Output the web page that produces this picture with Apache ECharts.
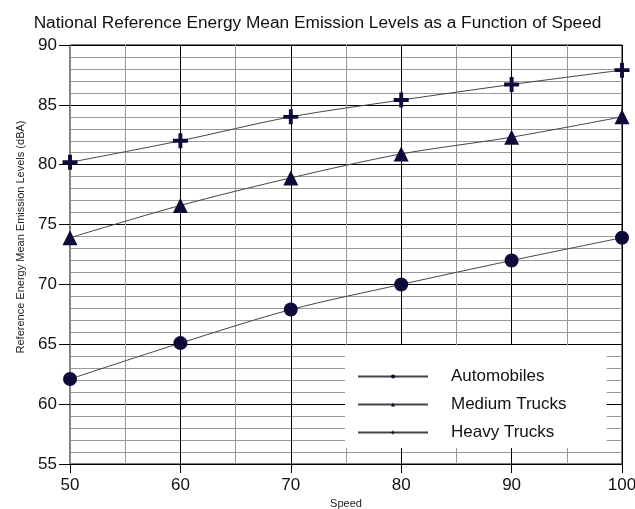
<!DOCTYPE html>
<html>
<head>
<meta charset="utf-8">
<script src="https://cdn.jsdelivr.net/npm/echarts@6/dist/echarts.min.js"></script>
<style>html,body{margin:0;padding:0;background:#fff}#c{width:635px;height:509px}</style>
</head>
<body>
<div id="c"></div>
<script>
var speeds = [50, 60, 70, 80, 90, 100];
var automobiles = [62.1, 65.1, 67.9, 70.0, 72.0, 73.9];
var mediumTrucks = [73.9, 76.6, 78.9, 80.9, 82.3, 84.0];
var heavyTrucks = [80.2, 82.0, 84.0, 85.4, 86.7, 87.9];
var seriesNames = ['Automobiles', 'Medium Trucks', 'Heavy Trucks'];
var yAxisTitle = 'Reference Energy Mean Emission Levels (dBA)';

function pairs(ys) { return speeds.map(function (s, i) { return [s, ys[i]]; }); }

var FONT = 'Liberation Sans, Arial, sans-serif';
var MARK = '#0d0b3a';
var LINE = '#444';
var plus = 'path://M3.7,0H6.3V3.7H10V6.3H6.3V10H3.7V6.3H0V3.7H3.7Z';

function mk(name, ys, sym, size) {
  return {
    name: name, type: 'line', data: pairs(ys), smooth: 0.3,
    symbol: sym, symbolSize: size, showAllSymbol: true,
    lineStyle: { color: LINE, width: 1 },
    itemStyle: { color: MARK, borderColor: MARK, borderWidth: 0 },
    emphasis: { disabled: true }
  };
}

var chart = echarts.init(document.getElementById('c'), null, { renderer: 'canvas' });
chart.setOption({
  animation: false,
  backgroundColor: '#fff',
  title: {
    text: 'National Reference Energy Mean Emission Levels as a Function of Speed',
    left: 'center', top: 10,
    textStyle: { fontFamily: FONT, fontSize: 17.3, fontWeight: 'normal', color: '#111' }
  },
  graphic: [{
    type: 'text', x: 21, y: 237, rotation: Math.PI / 2,
    style: { text: yAxisTitle, font: '11px ' + FONT, fill: '#222', textAlign: 'center', textVerticalAlign: 'middle' }
  }],
  grid: { left: 70, right: 13, top: 45, bottom: 45, outerBoundsMode: 'none', containLabel: false, show: true, borderColor: '#000', borderWidth: 1, backgroundColor: 'transparent' },
  legend: {
    data: seriesNames,
    orient: 'vertical', left: 345, top: 345,
    backgroundColor: '#fff',
    padding: [23, 40, 7, 12],
    itemWidth: 70, itemHeight: 5, itemGap: 11,
    textStyle: { fontFamily: FONT, fontSize: 17, color: '#111', padding: [0, 0, 0, 18] },
    selectedMode: false
  },
  xAxis: {
    type: 'value', min: 50, max: 100, interval: 10,
    name: 'Speed', nameLocation: 'middle', nameGap: 33,
    nameTextStyle: { fontFamily: FONT, fontSize: 11, color: '#222' },
    axisLine: { show: true, lineStyle: { color: '#000', width: 1 } },
    axisTick: { show: true, inside: false, length: 9, lineStyle: { color: '#000' } },
    axisLabel: { fontFamily: FONT, fontSize: 17, color: '#111', margin: 13 },
    splitLine: { show: true, lineStyle: { color: '#000', width: 1 } },
    minorTick: { show: false, splitNumber: 2 },
    minorSplitLine: { show: true, lineStyle: { color: '#999', width: 1 } }
  },
  yAxis: {
    type: 'value', min: 55, max: 90, interval: 5,
    axisLine: { show: true, lineStyle: { color: '#888', width: 1 } },
    axisTick: { show: true, inside: false, length: 11, lineStyle: { color: '#000' } },
    axisLabel: { fontFamily: FONT, fontSize: 17, color: '#111', margin: 13 },
    splitLine: { show: true, lineStyle: { color: '#000', width: 1 } },
    minorTick: { show: false, splitNumber: 5 },
    minorSplitLine: { show: true, lineStyle: { color: '#999', width: 1 } }
  },
  series: [
    mk(seriesNames[0], automobiles, 'circle', 14),
    mk(seriesNames[1], mediumTrucks, 'triangle', 15),
    mk(seriesNames[2], heavyTrucks, plus, 15)
  ]
});
</script>
</body>
</html>
